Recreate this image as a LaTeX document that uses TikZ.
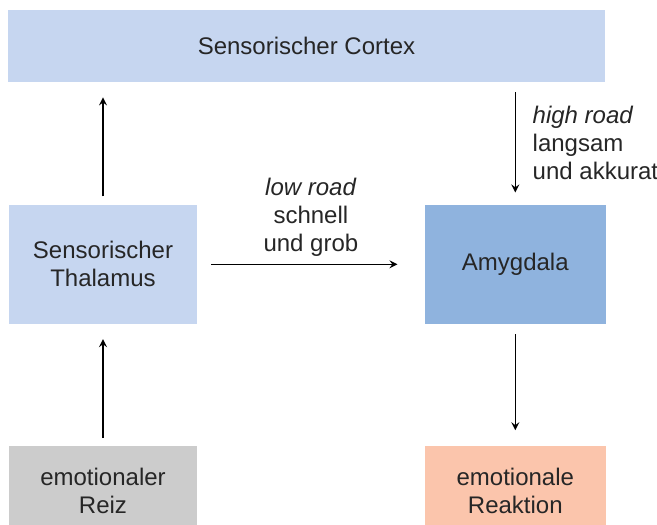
\documentclass[tikz,border=0pt]{standalone}
\usepackage{fontspec}
\setmainfont{Liberation Sans}
\usepackage{tikz}
\usetikzlibrary{positioning}

\definecolor{cortexblue}{RGB}{198,214,240}
\definecolor{amygblue}{RGB}{143,179,222}
\definecolor{reizgrey}{RGB}{204,204,204}
\definecolor{reaktsalmon}{RGB}{251,197,172}

\begin{document}
\begin{tikzpicture}[font=\fontsize{12}{14}\selectfont, text=black!85]

    \useasboundingbox (0,0) rectangle (328.5pt,262pt);

    % Cortex
    \node [fill=cortexblue,
        minimum width=298.5pt,
        minimum height=36pt
    ] (cortex) at (153.25pt,239pt) {Sensorischer Cortex};

    % Thalamus
    \node [fill=cortexblue,
        minimum width=94pt,
        minimum height=59.5pt,
        align=center,
        below right=61pt and 0.5pt of cortex.south west
    ] (thalamus) {Sensorischer\\Thalamus};

    % Amygdala
    \node [fill=amygblue,
        minimum width=90.5pt,
        minimum height=59.5pt,
        right=113.5pt of thalamus
    ] (amygdala) {Amygdala};

    % Reiz
    \node [fill=reizgrey,
        minimum width=94pt,
        minimum height=45pt,
        align=center,
        below=60.5pt of thalamus
    ] (reiz) {emotionaler\\Reiz};

    % Reaktion
    \node [fill=reaktsalmon,
        minimum width=90.5pt,
        minimum height=45pt,
        align=center,
        below=60.5pt of amygdala
    ] (reaktion) {emotionale\\Reaktion};

    % Arrows with text label
    \draw[-stealth, line width=0.75pt, shorten <=3.5pt, shorten >=7.5pt]
        (reiz) -- (thalamus);

    \draw[-stealth, line width=0.75pt, shorten <=4pt, shorten >=7.5pt]
        (thalamus.north) -- (thalamus.north |- cortex.south);

    \draw[-stealth, line width=0.75pt, shorten <=7pt, shorten >=13.5pt]
        (thalamus) -- (amygdala)
        node[midway,above,align=center]{\textit{low road}\\schnell\\und grob};

    \draw[-stealth, line width=0.75pt, shorten <=5pt, shorten >=6pt]
        (amygdala.north |- cortex.south) -- (amygdala.north)
        node[midway,right=5pt,align=left]{\textit{high road}\\langsam\\und akkurat};

    \draw[-stealth, line width=0.75pt, shorten <=5pt, shorten >=7.5pt]
        (amygdala) -- (reaktion);

\end{tikzpicture}
\end{document}
